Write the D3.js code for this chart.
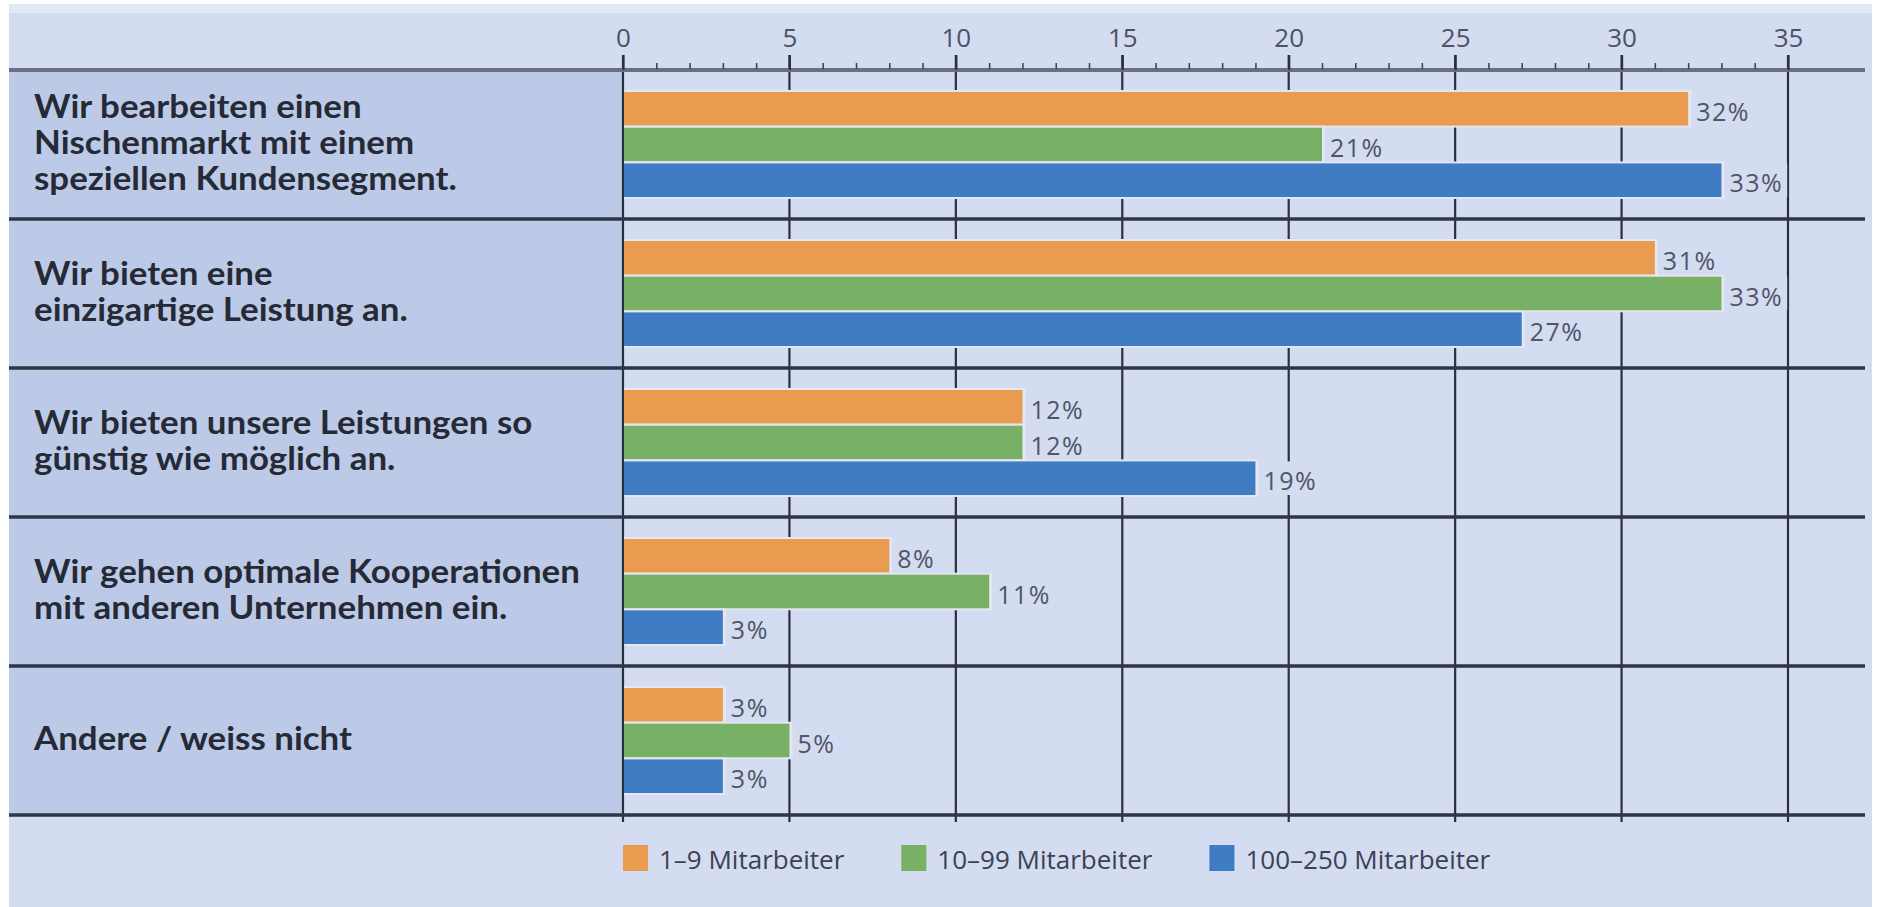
<!DOCTYPE html>
<html>
<head>
<meta charset="utf-8">
<script src="https://cdn.jsdelivr.net/npm/d3@7"></script>
<style>
  body { margin: 0; background: #fff; }
  svg { display: block; }
</style>
</head>
<body>
<div id="chart-area"></div>
<script>
// categories (left labels, already broken into lines)
let categories = [
  ['Wir bearbeiten einen', 'Nischenmarkt mit einem', 'speziellen Kundensegment.'],
  ['Wir bieten eine', 'einzigartige Leistung an.'],
  ['Wir bieten unsere Leistungen so', 'günstig wie möglich an.'],
  ['Wir gehen optimale Kooperationen', 'mit anderen Unternehmen ein.'],
  ['Andere / weiss nicht'],
];
let seriesNames = ['1–9 Mitarbeiter', '10–99 Mitarbeiter', '100–250 Mitarbeiter'];
let small = [32, 31, 12, 8, 3];
let medium = [21, 33, 12, 11, 5];
let large = [33, 27, 19, 3, 3];
let tickValues = [0, 5, 10, 15, 20, 25, 30, 35];
let colors = ['#e99b4f', '#78b065', '#3f7cc4'];

let width = 1881;
let height = 907;
let plotBg = '#d3dcf1';

let chart = d3
  .select('#chart-area')
  .append('svg')
  .attr('width', width)
  .attr('height', height);

let x = d3.scaleLinear().domain([0, 35]).range([623, 1788]);
let y = d3
  .scaleBand()
  .domain(d3.range(categories.length))
  .range([70, 815]);
let yInner = d3
  .scaleBand()
  .domain(d3.range(seriesNames.length))
  .range([22, 127])
  .paddingInner(0.06);

let rows = categories.map((c, i) => ({
  lines: c,
  i: i,
  values: [small[i], medium[i], large[i]],
}));

//background
chart.append('rect').attr('x', 9).attr('y', 4).attr('width', 1863).attr('height', 903).attr('fill', plotBg);
chart.append('rect').attr('x', 9).attr('y', 4).attr('width', 1863).attr('height', 9).attr('fill', '#e3e8f5');

//left label panel
chart
  .append('rect')
  .attr('x', 9)
  .attr('y', y.range()[0])
  .attr('width', x(0) - 9)
  .attr('height', y.range()[1] - y.range()[0])
  .attr('fill', '#bccae7');

//vertical grid lines
chart
  .append('g')
  .selectAll('line')
  .data(tickValues)
  .enter()
  .append('line')
  .attr('x1', (d) => x(d))
  .attr('x2', (d) => x(d))
  .attr('y1', 55)
  .attr('y2', 822)
  .attr('stroke', '#2b3040')
  .attr('stroke-width', 2.2);

//bars
let groups = chart
  .append('g')
  .selectAll('g')
  .data(rows)
  .enter()
  .append('g')
  .attr('transform', (d) => `translate(0, ${y(d.i)})`);

let bars = groups
  .selectAll('g')
  .data((d) => d.values.map((v, s) => ({ v: v, s: s })))
  .enter()
  .append('g');

//light halo around each bar
bars
  .append('rect')
  .attr('x', x(0) + 1)
  .attr('y', (d) => yInner(d.s) - 2)
  .attr('width', (d) => x(d.v) - x(0) + 2)
  .attr('height', yInner.bandwidth() + 4)
  .attr('fill', '#e4e6f1');

bars
  .append('rect')
  .attr('x', x(0) + 1)
  .attr('y', (d) => yInner(d.s))
  .attr('width', (d) => x(d.v) - x(0) - 1)
  .attr('height', yInner.bandwidth())
  .attr('fill', (d) => colors[d.s]);

//value labels with a background box
let valueLabels = bars
  .append('text')
  .attr('x', (d) => x(d.v) + 8)
  .attr('y', (d) => yInner(d.s) + yInner.bandwidth() / 2 + 2)
  .attr('dominant-baseline', 'central')
  .style('font-family', 'Open Sans')
  .style('font-size', '25px')
  .style('letter-spacing', '1.5px')
  .attr('fill', '#505567')
  .text((d) => d.v + '%');

valueLabels.each(function (d) {
  let w = this.getComputedTextLength();
  d3.select(this.parentNode)
    .insert('rect', 'text')
    .attr('x', x(d.v) + 4)
    .attr('y', yInner(d.s))
    .attr('width', w + 8)
    .attr('height', yInner.bandwidth())
    .attr('fill', plotBg);
});

//horizontal separator lines
chart
  .append('g')
  .selectAll('line')
  .data(d3.range(categories.length + 1))
  .enter()
  .append('line')
  .attr('x1', 9)
  .attr('x2', 1865)
  .attr('y1', (d) => y.range()[0] + d * y.step())
  .attr('y2', (d) => y.range()[0] + d * y.step())
  .attr('stroke', (d) => (d == 0 ? '#69707f' : '#2e3545'))
  .attr('stroke-width', (d) => (d == 0 ? 4 : 3.5));

//top axis with labels
let axis = chart
  .append('g')
  .attr('transform', `translate(0, ${y.range()[0]})`)
  .call(d3.axisTop(x).tickValues(tickValues).tickSize(15).tickPadding(8));
axis.select('.domain').remove();
axis.selectAll('line').attr('stroke', '#2b3040').attr('stroke-width', 2.2);
axis
  .selectAll('text')
  .style('font-family', 'Open Sans')
  .style('font-size', '26px')
  .attr('fill', '#4d5265');

//minor ticks
let minor = chart
  .append('g')
  .attr('transform', `translate(0, ${y.range()[0] - 1})`)
  .call(
    d3
      .axisTop(x)
      .tickValues(d3.range(0, 36).filter((d) => d % 5 != 0))
      .tickSize(6)
      .tickFormat(''),
  );
minor.select('.domain').remove();
minor.selectAll('line').attr('stroke', '#3a4050').attr('stroke-width', 1.5);

//category labels
let labelG = chart.append('g');
let lineHeight = 36;
rows.forEach((r) => {
  let cy = y(r.i) + y.bandwidth() / 2 + 10;
  let t = labelG
    .append('text')
    .attr('class', 'cat')
    .style('font-family', 'Lato')
    .style('font-weight', 'bold')
    .style('font-size', '32px')
    .attr('fill', '#262a36');
  r.lines.forEach((line, k) => {
    t.append('tspan')
      .attr('x', 0)
      .attr('y', cy + (k - (r.lines.length - 1) / 2) * lineHeight)
      .text(line);
  });
});
//fit the label font width to the original condensed face
let longest = 0;
labelG.selectAll('tspan').each(function () {
  longest = Math.max(longest, this.getComputedTextLength());
});
labelG.attr('transform', `translate(34, 0) scale(${546 / longest}, 1)`);

//legend
let legend = chart.append('g').attr('transform', 'translate(0, 858)');
let lx = x(0);
seriesNames.forEach((name, s) => {
  legend
    .append('rect')
    .attr('x', lx)
    .attr('y', -13)
    .attr('width', 25)
    .attr('height', 26)
    .attr('fill', colors[s]);
  let t = legend
    .append('text')
    .attr('x', lx + 36)
    .attr('y', 1)
    .attr('dominant-baseline', 'central')
    .style('font-family', 'Open Sans')
    .style('font-size', '26px')
    .attr('fill', '#3c4154')
    .text(name);
  lx += 36 + t.node().getComputedTextLength() + 57;
});
</script>
</body>
</html>
